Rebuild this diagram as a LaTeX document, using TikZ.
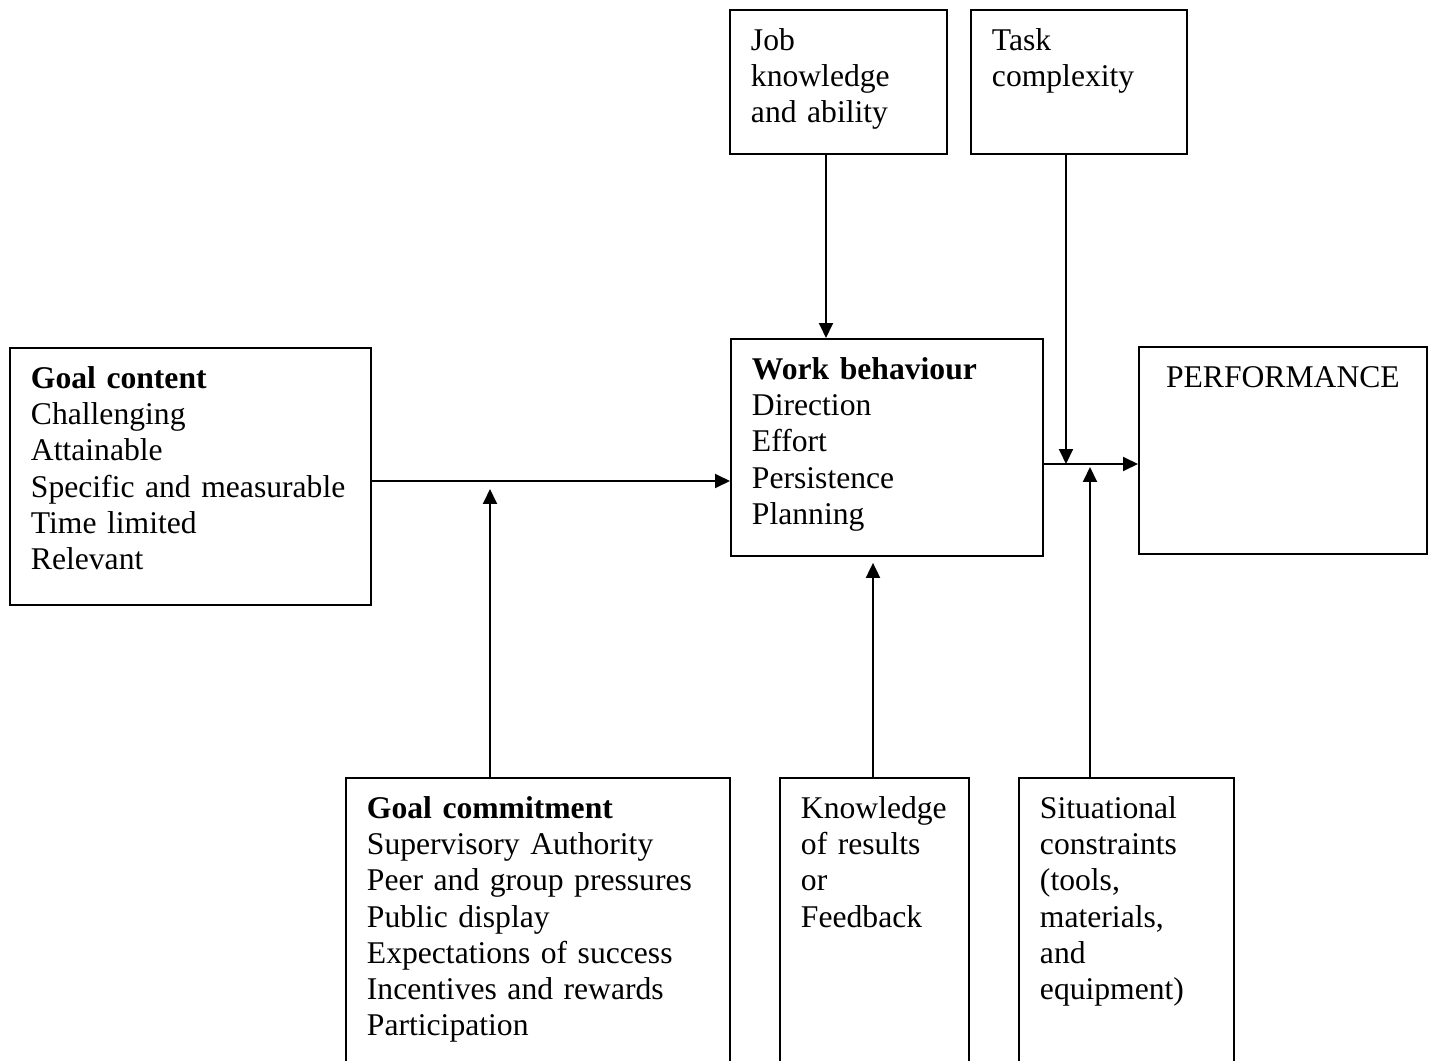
\documentclass[tikz,border=0pt]{standalone}
\usepackage{fontspec}
\setmainfont{Liberation Serif}
\usepackage{tikz}
\usetikzlibrary{arrows.meta,positioning,calc}
\tikzstyle{block} = [rectangle, draw, line width=1.1pt, anchor=north west,
    inner xsep=0.42cm, inner ysep=0pt, align=left, text height=0.82cm,
    font=\fontsize{18}{20.5}\selectfont]
\tikzstyle{arr} = [-{Triangle[length=0.3cm,width=0.28cm]}, line width=1.1pt]

\begin{document}
\begin{tikzpicture}[x=0.02cm, y=-0.02cm]
        \clip (0,0) rectangle (1431,1061);

        \node (goalcontent) at (9,347) [block, text width=6.38cm, text depth=4.32cm] {
            \textbf{Goal content}\\
            Challenging\\
            Attainable\\
            Specific and measurable\\
            Time limited\\
            Relevant
        };
        \node (jobknow) at (729,9) [block, text width=3.50cm, text depth=2.06cm] {
            Job\\
            knowledge\\
            and ability
        };
        \node (taskcomp) at (970,9) [block, text width=3.48cm, text depth=2.06cm] {
            Task\\
            complexity
        };
        \node (workbeh) at (730,338) [block, text width=5.40cm, text depth=3.52cm] {
            \textbf{Work behaviour}\\
            Direction\\
            Effort\\
            Persistence\\
            Planning
        };
        \node (perf) at (1138,346) [block, align=center, text width=4.92cm, text depth=3.32cm] {PERFORMANCE};

        \node (goalcommit) at (345,777) [block, text width=6.84cm, text depth=4.92cm] {
            \textbf{Goal commitment}\\
            Supervisory Authority\\
            Peer and group pressures\\
            Public display\\
            Expectations of success\\
            Incentives and rewards\\
            Participation
        };
        \node (feedback) at (779,777) [block, text width=2.94cm, text depth=4.92cm] {
            Knowledge\\
            of results\\
            or\\
            Feedback
        };
        \node (situation) at (1018,777) [block, text width=3.46cm, text depth=4.92cm] {
            Situational\\
            constraints\\
            (tools,\\
            materials,\\
            and\\
            equipment)
        };

        % junctions on the two main lines
        \coordinate (goaljoin) at (490,481);
        \coordinate (perfjoin) at (1066,464);
        \coordinate (sitjoin) at (1090,464);

        \draw[arr] (goalcontent.east |- goaljoin) -- (workbeh.west |- goaljoin);
        \draw[arr, shorten >=0.16cm] (goalcommit.north -| goaljoin) -- (goaljoin);
        \draw[arr] (jobknow.south -| 826,0) -- (workbeh.north -| 826,0);
        \draw[arr, shorten >=0.12cm] (feedback.north -| 873,0) -- (workbeh.south -| 873,0);
        \draw[arr] (workbeh.east |- perfjoin) -- (perf.west |- perfjoin);
        \draw[arr] (taskcomp.south -| perfjoin) -- (perfjoin);
        \draw[arr, shorten >=0.06cm] (situation.north -| sitjoin) -- (sitjoin);
    \end{tikzpicture}
\end{document}
